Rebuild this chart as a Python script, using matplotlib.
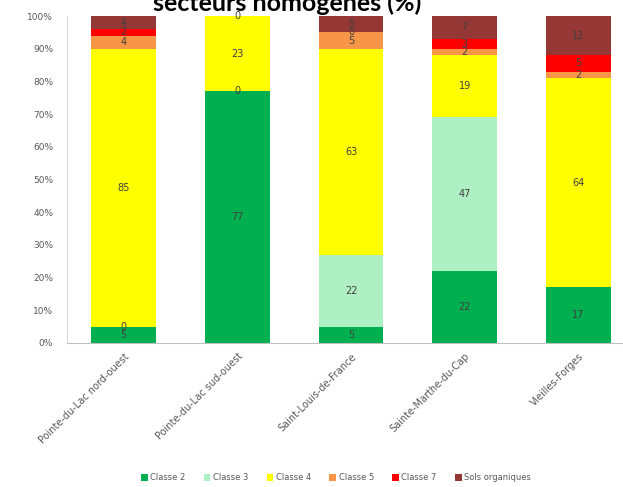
import numpy as np
import matplotlib
matplotlib.use("Agg")
import matplotlib.pyplot as plt

categories = ["Pointe-du-Lac nord-ouest", "Pointe-du-Lac sud-ouest",
              "Saint-Louis-de-France", "Sainte-Marthe-du-Cap", "Vieilles-Forges"]
series_names = ["Classe 2", "Classe 3", "Classe 4", "Classe 5", "Classe 7", "Sols organiques"]
classe2 = [5, 77, 5, 22, 17]
classe3 = [0, 0, 22, 47, np.nan]
classe4 = [85, 23, 63, 19, 64]
classe5 = [4, 0, 5, 2, 2]
classe7 = [2, 0, 0, 3, 5]
sols_org = [4, 0, 5, 7, 12]
colors = ["#00B050", "#AEF0C4", "#FFFF00", "#F79646", "#FF0000", "#953735"]
yticks = [0, 10, 20, 30, 40, 50, 60, 70, 80, 90, 100]
title = "secteurs homogènes (%)"

series = [classe2, classe3, classe4, classe5, classe7, sols_org]

fig = plt.figure(figsize=(6.23, 4.87), dpi=100)
W, H = 623, 487
left, right, top, bottom = 67, 635, 16, 343
ax = fig.add_axes([left / W, 1 - bottom / H, (right - left) / W, (bottom - top) / H])

x = np.arange(len(categories))
totals = np.nansum(np.array(series, dtype=float), axis=0)
base = np.zeros(len(categories))
placed = set()
for name, vals, c in zip(series_names, series, colors):
    v = np.array(vals, dtype=float)
    pct = np.nan_to_num(v) / totals * 100
    ax.bar(x, pct, bottom=base, width=0.57, color=c, label=name, linewidth=0)
    for i in range(len(categories)):
        if not np.isnan(v[i]):
            ypos = base[i] + pct[i] / 2
            key = (i, round(ypos, 1))
            if key in placed:
                continue
            placed.add(key)
            ax.text(x[i], ypos, f"{int(v[i])}", ha="center", va="center",
                    fontsize=7, color="#404040")
    base += pct

ax.set_xlim(-0.5, len(categories) - 0.5)
ax.set_ylim(0, 100)
ax.set_yticks(yticks)
ax.set_yticklabels([f"{t}%" for t in yticks], fontsize=6.5, color="#595959")
ax.set_xticks(x)
ax.set_xticklabels(categories, rotation=45, ha="right", rotation_mode="anchor",
                   fontsize=7, color="#595959")
ax.tick_params(axis="both", length=0)
ax.tick_params(axis="y", pad=10)
ax.tick_params(axis="x", pad=6)
for s in ["top", "right"]:
    ax.spines[s].set_visible(False)
ax.spines["left"].set_color("#D9D9D9")
ax.spines["bottom"].set_color("#BFBFBF")

fig.text(287 / W, 1 - 11 / H, title, ha="center", va="baseline", fontsize=18,
         fontweight="bold", family=["Lato", "DejaVu Sans"], color="black")

fig.legend(loc="center", bbox_to_anchor=(336 / W, 1 - 478 / H), ncol=6, frameon=False,
           fontsize=6, handlelength=0.8, handleheight=0.8, handletextpad=0.3,
           columnspacing=2.2, labelcolor="#595959")

fig.savefig("out.png", dpi=100)
